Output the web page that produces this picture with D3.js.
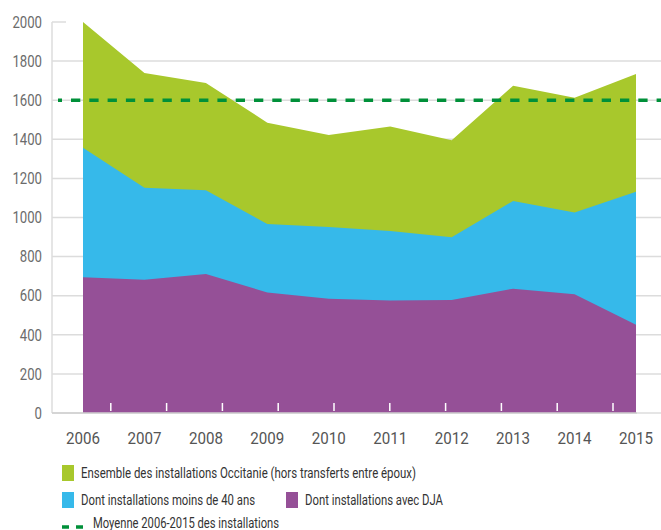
<!DOCTYPE html>
<html>
<head>
<meta charset="utf-8">
<script src="https://cdn.jsdelivr.net/npm/d3@7"></script>
<style>
  body { margin: 0; background: #fff; }
  svg { display: block; font-family: "Roboto", "Liberation Sans", sans-serif; }
</style>
</head>
<body>
<div id="chart"></div>
<script>
// Chart data
const years = [2006, 2007, 2008, 2009, 2010, 2011, 2012, 2013, 2014, 2015];
const totalValues = [2000, 1739, 1688, 1485, 1422, 1466, 1395, 1674, 1613, 1734];
const under40Values = [1357, 1152, 1139, 967, 951, 931, 899, 1085, 1025, 1132];
const djaValues = [694, 682, 711, 617, 585, 575, 578, 636, 607, 452];
const average = 1600;
const yTicks = [0, 200, 400, 600, 800, 1000, 1200, 1400, 1600, 1800, 2000];

const width = 661;
const height = 530;

const green = "#a8c82c";
const blue = "#36b9ea";
const purple = "#955097";
const dashGreen = "#009039";

const svg = d3.select("#chart")
    .append("svg")
    .attr("width", width)
    .attr("height", height);

// Scales
const x = d3.scalePoint()
    .domain(years)
    .range([83, 636]);

const y = d3.scaleLinear()
    .domain([0, 2000])
    .range([413, 22]);

// band scale only used for the small white marks at the bottom
const xBand = d3.scaleBand()
    .domain(years)
    .range([55, 613]);

// Gridlines
svg.append("g")
    .selectAll("line")
    .data(yTicks)
    .join("line")
    .attr("x1", 52)
    .attr("x2", d => d === 2000 ? 66 : width)
    .attr("y1", d => y(d))
    .attr("y2", d => y(d))
    .attr("stroke", "#dcdcdc")
    .attr("stroke-width", 1.5);

// Y axis line
svg.append("line")
    .attr("x1", 52).attr("x2", 52)
    .attr("y1", y(2000)).attr("y2", y(0))
    .attr("stroke", "#dcdcdc")
    .attr("stroke-width", 1.5);

// Areas
const series = [
    {name: "total", values: totalValues, color: green},
    {name: "under40", values: under40Values, color: blue},
    {name: "dja", values: djaValues, color: purple}
];

const area = d3.area()
    .x((d, i) => x(years[i]))
    .y0(y(0))
    .y1(d => y(d));

svg.append("g")
    .selectAll("path")
    .data(series)
    .join("path")
    .attr("d", d => area(d.values))
    .attr("fill", d => d.color);

// Bottom axis line
svg.append("line")
    .attr("x1", 52).attr("x2", 637)
    .attr("y1", y(0)).attr("y2", y(0))
    .attr("stroke", "#cfcfcf")
    .attr("stroke-width", 1.5);

// small white marks
svg.append("g")
    .selectAll("line")
    .data(years)
    .join("line")
    .attr("x1", d => xBand(d) + xBand.bandwidth())
    .attr("x2", d => xBand(d) + xBand.bandwidth())
    .attr("y1", y(0) - 10)
    .attr("y2", y(0) - 2)
    .attr("stroke", "#fff")
    .attr("stroke-width", 1.5);

// Average dashed line
svg.append("line")
    .attr("x1", 58).attr("x2", width)
    .attr("y1", y(average)).attr("y2", y(average))
    .attr("stroke", dashGreen)
    .attr("stroke-width", 3.5)
    .attr("stroke-dasharray", "9.3 9")
    .attr("stroke-dashoffset", 5.3);

// Y labels (condensed look via textLength)
svg.append("g")
    .selectAll("text")
    .data(yTicks)
    .join("text")
    .attr("x", 42)
    .attr("y", d => y(d))
    .attr("dy", "0.36em")
    .attr("text-anchor", "end")
    .attr("font-size", 16)
    .attr("fill", "#6b6b6b")
    .attr("textLength", d => String(d).length * 7.4)
    .attr("lengthAdjust", "spacingAndGlyphs")
    .text(d => d);

// X labels
svg.append("g")
    .selectAll("text")
    .data(years)
    .join("text")
    .attr("x", d => x(d))
    .attr("y", 444)
    .attr("text-anchor", "middle")
    .attr("font-size", 17)
    .attr("fill", "#555")
    .attr("textLength", 34)
    .attr("lengthAdjust", "spacingAndGlyphs")
    .text(d => d);

// Legend
const legend = svg.append("g")
    .attr("font-size", 14)
    .attr("fill", "#333");

const legendItems = [
    {label: "Ensemble des installations Occitanie (hors transferts entre époux)", color: green, x: 62, y: 465, w: 335},
    {label: "Dont installations moins de 40 ans", color: blue, x: 62, y: 492, w: 174},
    {label: "Dont installations avec DJA", color: purple, x: 286, y: 492, w: 138}
];

legendItems.forEach(d => {
    legend.append("rect")
        .attr("x", d.x).attr("y", d.y)
        .attr("width", 12).attr("height", 16)
        .attr("fill", d.color);
    legend.append("text")
        .attr("x", d.x + 19)
        .attr("y", d.y + 12.5)
        .attr("textLength", d.w)
        .attr("lengthAdjust", "spacingAndGlyphs")
        .text(d.label);
});

legend.append("line")
    .attr("x1", 62).attr("x2", 84)
    .attr("y1", 527).attr("y2", 527)
    .attr("stroke", dashGreen)
    .attr("stroke-width", 3.5)
    .attr("stroke-dasharray", "7 7");

legend.append("text")
    .attr("x", 93)
    .attr("y", 528)
    .attr("textLength", 186)
    .attr("lengthAdjust", "spacingAndGlyphs")
    .text("Moyenne 2006-2015 des installations");
</script>
</body>
</html>
